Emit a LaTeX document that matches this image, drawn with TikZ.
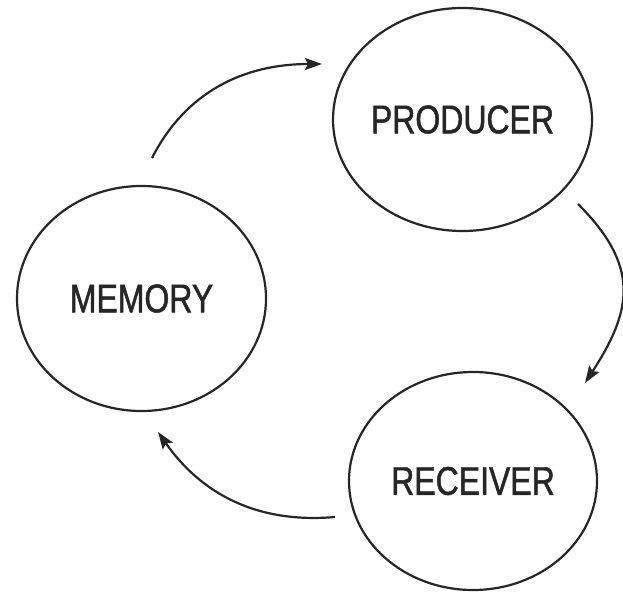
\documentclass[tikz,border=0pt]{standalone}
\usepackage{fontspec}
\setmainfont[FakeStretch=0.8,FakeBold=1.2]{Liberation Sans}
\usetikzlibrary{shapes.geometric,arrows.meta}
\begin{document}
\begin{tikzpicture}[x=1pt,y=-1pt,
  bubble/.style={ellipse,draw=black!85,line width=2.2pt,inner sep=0pt,
    font=\fontsize{40}{40}\selectfont,text=black!85},
  flow/.style={draw=black!85,line width=2.2pt,
    -{Stealth[length=17pt,width=12pt,inset=3pt]}}]
\useasboundingbox (0,0) rectangle (623,593);
\node[bubble,minimum width=249pt,minimum height=223pt] (prod) at (462.5,119.5) {PRODUCER};
\node[bubble,minimum width=249pt,minimum height=225pt] (mem) at (141.5,298.5) {MEMORY};
\node[bubble,minimum width=248pt,minimum height=218pt] (rec) at (473,481) {RECEIVER};
\coordinate (a1s) at (152,158);
\coordinate (a1e) at (322,64);
\coordinate (a2s) at (578,204);
\coordinate (a2e) at (585,383);
\coordinate (a3s) at (335,517);
\coordinate (a3e) at (158,432);
\draw[flow] (a1s) to[out=63,in=180] (a1e);
\draw[flow] (a2s) to[out=-45,in=57,looseness=1.25] (a2e);
\draw[flow] (a3s) to[out=185,in=-55] (a3e);
\end{tikzpicture}
\end{document}
